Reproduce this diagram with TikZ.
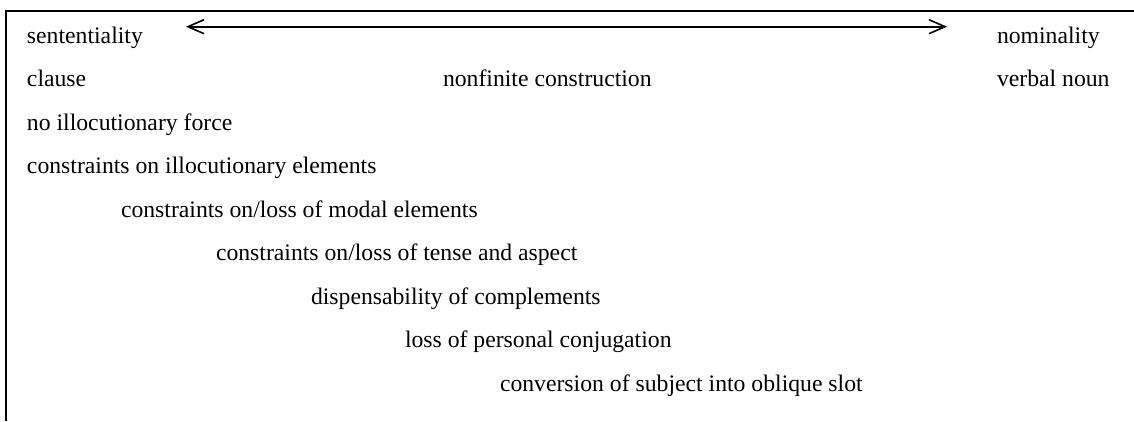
\documentclass[tikz,border=0pt]{standalone}
\usepackage{fontspec}
\setmainfont{Liberation Serif}
\usetikzlibrary{arrows.meta}
\tikzset{
  lbl/.style={anchor=base west, inner sep=0pt, outer sep=0pt, font=\fontsize{23.7}{28}\selectfont},
  frame/.style={line width=2pt, line join=miter},
  scale arrow/.style={line width=1.6pt, {Straight Barb[length=16pt,width=14pt]}-{Straight Barb[length=16pt,width=14pt]}}
}
\begin{document}
\begin{tikzpicture}[x=1pt,y=-1pt]
\useasboundingbox (0,0) rectangle (1134,421);
\draw[frame] (6.2,421) -- (6.2,10.5) -- (1134,10.5);
\node[lbl] (sent) at (27,43.3) {sententiality};
\node[lbl] (nom) at (997,43.3) {nominality};
\coordinate (L) at (186,26.7);
\coordinate (R) at (947,26.7);
\draw[scale arrow] (L) -- (R);
\node[lbl] (clause) at (27,86.8) {clause};
\node[lbl] (nonfin) at (443,86.8) {nonfinite construction};
\node[lbl] (vn) at (997,86.8) {verbal noun};
\node[lbl] (illf) at (27,130.3) {no illocutionary force};
\node[lbl] (illc) at (27,173.8) {constraints on illocutionary elements};
\node[lbl] (modal) at (121,217.3) {constraints on/loss of modal elements};
\node[lbl] (tense) at (216,260.8) {constraints on/loss of tense and aspect};
\node[lbl] (disp) at (311,304.3) {dispensability of complements};
\node[lbl] (conj) at (405,347.8) {loss of personal conjugation};
\node[lbl] (conv) at (500,391.3) {conversion of subject into oblique slot};
\end{tikzpicture}
\end{document}
